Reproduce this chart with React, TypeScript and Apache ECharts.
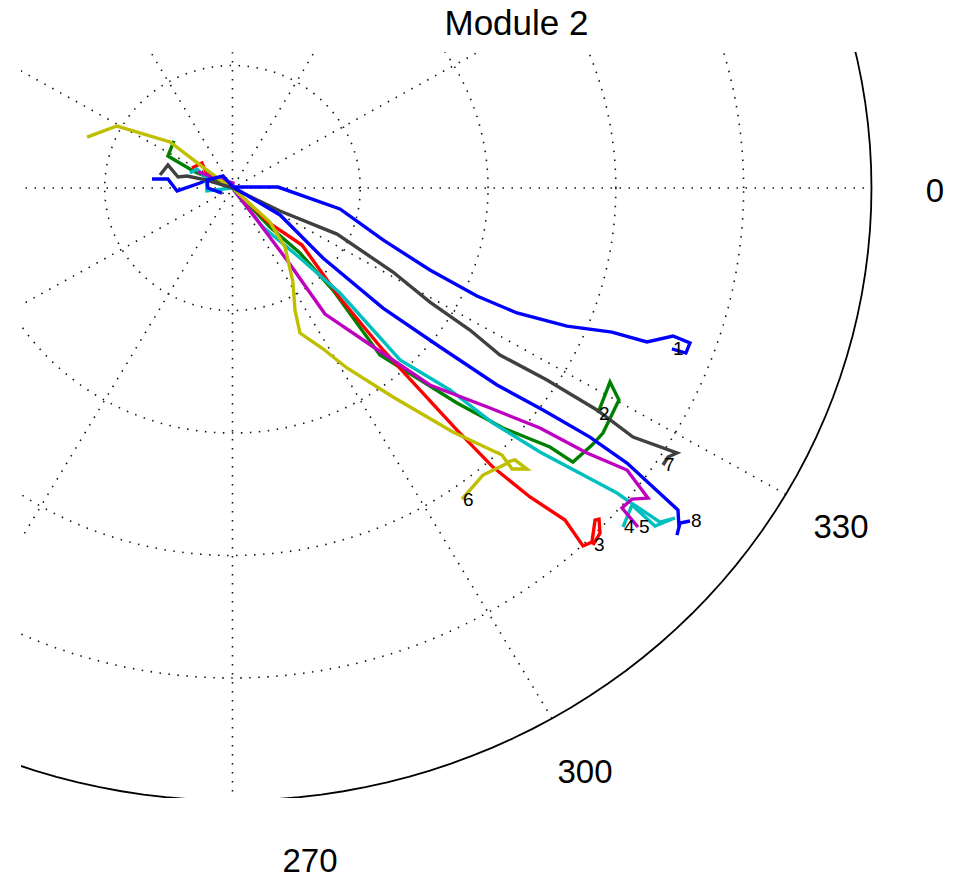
import React, { useEffect, useRef } from "react";
import * as echarts from "echarts";

// Polar plot "Module 2": traces read as [x, y] in ring units (one dotted ring = 1)
const SERIES_NAMES = ["1", "2", "3", "4", "5", "6", "7", "8"];
const SERIES_COLORS = ["#0000ff", "#008000", "#ff0000", "#00bfbf", "#bf00bf", "#bfbf00", "#404040", "#0000ff"];

const trace1 = [
  [-0.63, 0.073], [-0.505, 0.073], [-0.434, -0.024], [-0.254, 0.041], [-0.2, 0.065], [-0.004, 0.008],
  [0.356, 0.008], [0.841, -0.171], [1.178, -0.424], [1.545, -0.669], [1.913, -0.882], [2.226, -1.02],
  [2.617, -1.127], [2.969, -1.176], [3.243, -1.257], [3.447, -1.208], [3.58, -1.265], [3.548, -1.347],
  [3.439, -1.314],
];
const trace2 = [
  [-0.458, 0.384], [-0.505, 0.261], [-0.426, 0.212], [-0.293, 0.131], [-0.004, 0.008], [0.293, -0.318],
  [0.528, -0.531], [0.786, -0.833], [1.154, -1.363], [1.757, -1.755], [2.117, -1.959], [2.484, -2.114],
  [2.664, -2.237], [2.813, -2.098], [2.899, -2.0], [3.024, -1.731], [2.954, -1.584], [2.86, -1.837],
];
const trace3 = [
  [-0.317, 0.163], [-0.239, 0.204], [-0.207, 0.131], [-0.004, 0.008], [0.278, -0.278], [0.544, -0.465],
  [0.841, -0.898], [1.178, -1.322], [1.757, -1.976], [2.038, -2.278], [2.328, -2.522], [2.602, -2.71],
  [2.743, -2.922], [2.813, -2.89], [2.837, -2.71], [2.868, -2.702], [2.876, -2.816], [2.821, -2.914],
];
const trace4 = [
  [-0.333, 0.122], [-0.278, 0.155], [-0.207, 0.082], [-0.2, -0.024], [-0.004, 0.0], [0.239, -0.318],
  [0.528, -0.571], [0.841, -0.857], [1.311, -1.404], [1.702, -1.649], [2.038, -1.918], [2.406, -2.155],
  [3.009, -2.49], [3.087, -2.547], [3.345, -2.727], [3.462, -2.694], [3.306, -2.759], [3.126, -2.588],
  [3.056, -2.767],
];
const trace5 = [
  [-0.27, 0.131], [-0.137, 0.082], [0.004, 0.041], [0.0, 0.0], [0.192, -0.261], [0.426, -0.588],
  [0.724, -1.029], [1.115, -1.306], [1.545, -1.608], [2.015, -1.796], [2.406, -1.959], [2.774, -2.163],
  [3.087, -2.302], [3.251, -2.531], [3.126, -2.539], [3.048, -2.612], [3.173, -2.767],
];
const trace6 = [
  [-1.138, 0.416], [-0.904, 0.506], [-0.489, 0.376], [-0.254, 0.188], [-0.074, 0.049], [0.0, 0.0],
  [0.293, -0.278], [0.411, -0.482], [0.473, -0.767], [0.489, -0.996], [0.528, -1.184], [0.7, -1.306],
  [0.896, -1.469], [1.256, -1.706], [1.725, -1.992], [2.109, -2.18], [2.148, -2.237], [2.21, -2.22],
  [2.304, -2.294], [2.187, -2.294], [2.156, -2.245], [1.96, -2.343], [1.796, -2.539],
];
const trace7 = [
  [-0.567, 0.106], [-0.505, 0.188], [-0.426, 0.09], [-0.356, 0.098], [-0.2, 0.065], [0.004, 0.0],
  [0.372, -0.188], [0.818, -0.376], [1.256, -0.686], [1.545, -0.931], [1.858, -1.159], [2.093, -1.363],
  [2.461, -1.567], [2.852, -1.812], [3.134, -2.033], [3.478, -2.163], [3.408, -2.196], [3.369, -2.261],
];
const trace8 = [
  [-0.082, -0.041], [-0.192, 0.0], [-0.2, 0.065], [-0.074, 0.098], [0.004, 0.008], [0.372, -0.22],
  [0.708, -0.571], [1.178, -0.98], [1.624, -1.298], [2.07, -1.608], [2.43, -1.812], [2.797, -2.033],
  [3.087, -2.245], [3.486, -2.629], [3.494, -2.767], [3.478, -2.833], [3.502, -2.735], [3.58, -2.718],
];
const TRACES = [trace1, trace2, trace3, trace4, trace5, trace6, trace7, trace8];

const RING_RADII = [1, 2, 3, 4, 5];
const SPOKE_ANGLES = [0, 30, 60, 90, 120, 150];
const ANGLE_LABELS = ["0", "330", "300", "270"];
const TITLE = "Module 2";

const FONT = '"Liberation Sans", Arial, Helvetica, sans-serif';

function ringPoints(r: number) {
  const pts: number[][] = [];
  for (let a = 0; a <= 360; a += 2) {
    const t = (a * Math.PI) / 180;
    pts.push([r * Math.cos(t), r * Math.sin(t)]);
  }
  return pts;
}

export default function App() {
  const ref = useRef<HTMLDivElement>(null);
  useEffect(() => {
    document.body.style.margin = "0";
    const chart = echarts.init(ref.current!, null, { renderer: "svg" });
    const rmax = RING_RADII[RING_RADII.length - 1];
    const dotted = { type: [1.5, 7.5] as any, width: 1.6, color: "#111" };
    const gridSeries: any[] = [];
    RING_RADII.forEach((r, i) => {
      const last = i === RING_RADII.length - 1;
      gridSeries.push({
        type: "line",
        data: ringPoints(r),
        symbol: "none",
        silent: true,
        lineStyle: last ? { type: "solid", width: 1.8, color: "#000" } : dotted,
      });
    });
    SPOKE_ANGLES.forEach((a) => {
      const t = (a * Math.PI) / 180;
      gridSeries.push({
        type: "line",
        data: [
          [-rmax * Math.cos(t), -rmax * Math.sin(t)],
          [rmax * Math.cos(t), rmax * Math.sin(t)],
        ],
        symbol: "none",
        silent: true,
        lineStyle: dotted,
      });
    });
    const dataSeries = TRACES.map((tr, i) => ({
      type: "line",
      name: SERIES_NAMES[i],
      data: tr,
      symbol: "none",
      showSymbol: false,
      silent: true,
      lineStyle: { width: 3.4, color: SERIES_COLORS[i], join: "miter" },
      itemStyle: { color: SERIES_COLORS[i] },
      endLabel: {
        show: true,
        formatter: "{a}",
        distance: 1,
        color: "#000",
        fontSize: 19,
        fontFamily: FONT,
      },
    }));
    const labelPos = [
      [935, 190],
      [841, 526],
      [585, 771],
      [310, 860],
    ];
    const texts: any[] = ANGLE_LABELS.map((t, i) => ({
      type: "text",
      style: {
        text: t,
        x: labelPos[i][0],
        y: labelPos[i][1],
        fill: "#000",
        font: `33px ${FONT}`,
        lineHeight: 30,
        textAlign: "center",
        textVerticalAlign: "middle",
        align: "center",
        verticalAlign: "middle",
      },
      z: 100,
    }));
    texts.push({
      type: "text",
      style: {
        text: TITLE,
        x: 516.5,
        y: 22,
        fill: "#000",
        font: `35px ${FONT}`,
        lineHeight: 34,
        textAlign: "center",
        textVerticalAlign: "middle",
        align: "center",
        verticalAlign: "middle",
      },
      z: 100,
    });
    chart.setOption({
      animation: false,
      grid: { left: 22, top: 53, width: 868, height: 744, containLabel: false },
      xAxis: { type: "value", min: -1.647, max: 5.145, show: false, splitLine: { show: false } },
      yAxis: { type: "value", min: -4.971, max: 1.102, show: false, splitLine: { show: false } },
      tooltip: { show: false },
      series: [...gridSeries, ...dataSeries],
      graphic: texts,
    });
    return () => chart.dispose();
  }, []);
  return <div ref={ref} style={{ width: 962, height: 878, background: "#fff" }} />;
}
